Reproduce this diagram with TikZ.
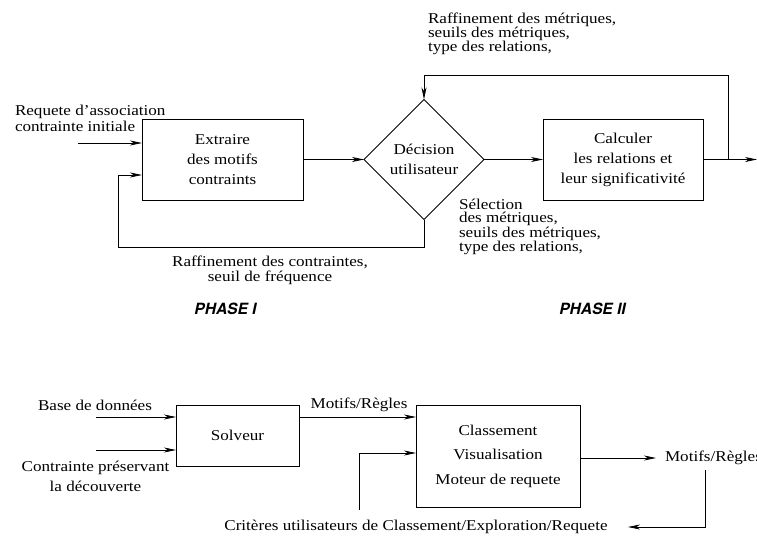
\documentclass[tikz,border=0pt]{standalone}
\usepackage{fontspec}
\setmainfont{Liberation Serif}[FakeStretch=1.14]
\newfontfamily\phasefont{TeX Gyre Heros}
\usetikzlibrary{arrows.meta,shapes.geometric}
\begin{document}
\begin{tikzpicture}[x=1pt,y=-1pt,
  >={Stealth[length=12pt,width=5pt,inset=3.5pt]},
  line width=0.8pt,
  box/.style={draw, rectangle, inner sep=0pt, outer sep=0pt, align=center,
    font=\fontsize{15}{20}\selectfont},
  lbl/.style={inner sep=0pt, outer sep=0pt, font=\fontsize{15}{14}\selectfont},
  phase/.style={inner sep=0pt, outer sep=0pt, font=\phasefont\fontsize{15.5}{17}\selectfont\bfseries\itshape}]
\useasboundingbox (0,0) rectangle (757,535);

% ---------- top part ----------
\node[box, minimum width=161pt, minimum height=81pt] (ext) at (222.5,159.5) {Extraire\\des motifs\\contraints};
\node[draw, diamond, aspect=1, minimum width=120pt, minimum height=120pt, inner sep=0pt, outer sep=0pt,
  align=center, font=\fontsize{15}{20}\selectfont] (dec) at (424,159.5) {Décision\\utilisateur};
\node[box, minimum width=160pt, minimum height=81pt] (calc) at (623,159.5) {Calculer\\les relations et\\leur significativité};

\coordinate (in1) at (78,143);
\draw[->] (in1) -- (in1 -| ext.west);
\draw[->] (ext.east) -- (dec.west);
\draw[->] (dec.east) -- (calc.west);
\coordinate (outR) at (757,159.5);
\draw[->] (calc.east) -- (outR);
\coordinate (br) at (728,159.5);
\coordinate (topL) at (424,75);
\draw[->] (br) |- (topL) -- (dec.north);
\coordinate (botL) at (118,247);
\coordinate (fbin) at (118,175);
\draw[->] (dec.south) |- (botL) -- (fbin) -- (fbin -| ext.west);

\node[lbl, anchor=west, align=left, font=\fontsize{15}{16}\selectfont] (req) at (15,118) {Requete d’association\\contrainte initiale};
\node[lbl, anchor=west, align=left, font=\fontsize{15}{13.8}\selectfont] (rm) at (428,34) {Raffinement des métriques,\\seuils des métriques,\\type des relations,};
\node[lbl, anchor=west, align=left, font=\fontsize{15}{13.4}\selectfont] (sel) at (459,227) {Sélection\\des métriques,\\seuils des métriques,\\type des relations,};
\node[lbl, align=center, font=\fontsize{15}{15}\selectfont] (rc) at (270,270.5) {Raffinement des contraintes,\\seuil de fréquence};
\node[phase] (p1) at (225.5,309) {PHASE I};
\node[phase] (p2) at (592.5,309) {PHASE II};

% ---------- bottom part ----------
\node[box, minimum width=123pt, minimum height=61pt] (solv) at (237.5,435.5) {Solveur};
\node[box, minimum width=164pt, minimum height=102pt, font=\fontsize{15}{24.5}\selectfont] (cls) at (498,456) {Classement\\Visualisation\\Moteur de requete};

\node[lbl] (bdd) at (95,405) {Base de données};
\coordinate (bin) at (96,417);
\draw[->] (bin) -- (bin -| solv.west);
\coordinate (cin) at (96,450);
\draw[->] (cin) -- (cin -| solv.west);
\node[lbl, align=center, font=\fontsize{15}{19.5}\selectfont] (cpd) at (95.5,476.5) {Contrainte préservant\\la découverte};

\coordinate (s1) at (solv.east |- bin);
\draw[->] (s1) -- (s1 -| cls.west);
\node[lbl] (mr1) at (359,405) {Motifs/Règles};
\coordinate (crit) at (359,510);
\coordinate (cin2) at (359,453);
\draw[->] (crit) -- (cin2) -- (cin2 -| cls.west);

\coordinate (o2) at (656,458);
\draw[->] (cls.east |- o2) -- (o2);
\node[lbl, anchor=west] (mr2) at (665,458) {Motifs/Règles};
\coordinate (r1) at (705,470);
\coordinate (r2) at (705,527);
\coordinate (r3) at (628,527);
\draw[->] (r1) -- (r2) -- (r3);
\node[lbl] (critl) at (416,527) {Critères utilisateurs de Classement/Exploration/Requete};
\end{tikzpicture}
\end{document}
